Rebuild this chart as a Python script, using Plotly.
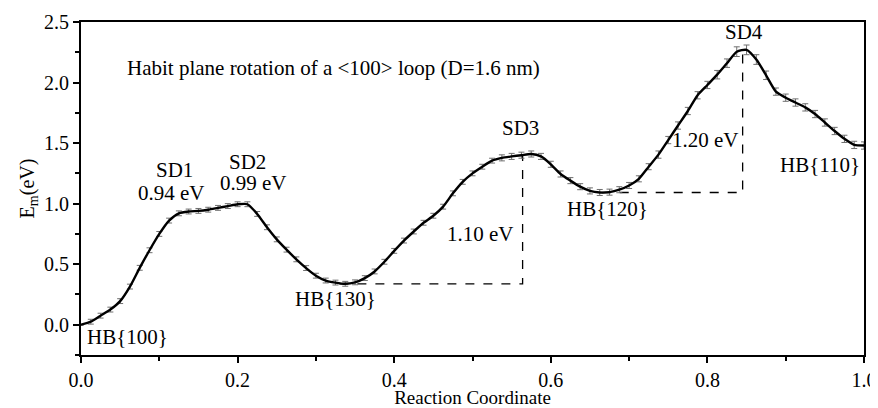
import plotly.graph_objects as go

# Reaction coordinate and migration energy (eV)
reaction_coord = [
    0.0000, 0.0125, 0.0250, 0.0375, 0.0500, 0.0625, 0.0750, 0.0875, 0.1000, 0.1125,
    0.1250, 0.1375, 0.1500, 0.1625, 0.1750, 0.1875, 0.2000, 0.2125, 0.2250, 0.2375,
    0.2500, 0.2625, 0.2750, 0.2875, 0.3000, 0.3125, 0.3250, 0.3375, 0.3500, 0.3625,
    0.3750, 0.3875, 0.4000, 0.4125, 0.4250, 0.4375, 0.4500, 0.4625, 0.4750, 0.4875,
    0.5000, 0.5125, 0.5250, 0.5375, 0.5500, 0.5625, 0.5750, 0.5875, 0.6000, 0.6125,
    0.6250, 0.6375, 0.6500, 0.6625, 0.6750, 0.6875, 0.7000, 0.7125, 0.7250, 0.7375,
    0.7500, 0.7625, 0.7750, 0.7875, 0.8000, 0.8125, 0.8250, 0.8375, 0.8500, 0.8625,
    0.8750, 0.8875, 0.9000, 0.9125, 0.9250, 0.9375, 0.9500, 0.9625, 0.9750, 0.9875,
    1.0000,
]
energy = [
    0.000, 0.025, 0.075, 0.125, 0.195, 0.315, 0.470, 0.615, 0.750, 0.860,
    0.920, 0.935, 0.940, 0.950, 0.965, 0.980, 0.995, 0.995, 0.915, 0.805,
    0.705, 0.620, 0.540, 0.468, 0.405, 0.365, 0.348, 0.338, 0.350, 0.385,
    0.440, 0.520, 0.610, 0.695, 0.770, 0.842, 0.900, 0.975, 1.085, 1.180,
    1.250, 1.305, 1.355, 1.378, 1.390, 1.400, 1.410, 1.390, 1.325, 1.245,
    1.190, 1.140, 1.105, 1.092, 1.095, 1.115, 1.150, 1.205, 1.305, 1.405,
    1.525, 1.645, 1.765, 1.895, 1.980, 2.065, 2.160, 2.255, 2.270, 2.190,
    2.060, 1.925, 1.875, 1.835, 1.795, 1.740, 1.670, 1.600, 1.535, 1.485,
    1.480,
]
energy_err = [
    0.00, 0.02, 0.02, 0.02, 0.02, 0.02, 0.02, 0.02, 0.02, 0.02,
    0.02, 0.02, 0.02, 0.02, 0.02, 0.02, 0.02, 0.02, 0.02, 0.02,
    0.02, 0.02, 0.02, 0.02, 0.02, 0.02, 0.02, 0.02, 0.02, 0.02,
    0.02, 0.02, 0.02, 0.02, 0.02, 0.02, 0.02, 0.02, 0.02, 0.02,
    0.02, 0.02, 0.02, 0.025, 0.025, 0.025, 0.025, 0.025, 0.025, 0.025,
    0.025, 0.025, 0.025, 0.025, 0.025, 0.025, 0.025, 0.025, 0.025, 0.03,
    0.03, 0.03, 0.03, 0.03, 0.03, 0.035, 0.035, 0.04, 0.04, 0.04,
    0.035, 0.03, 0.03, 0.03, 0.03, 0.03, 0.03, 0.03, 0.03, 0.03,
    0.03,
]

# Barrier guides: (start x, corner x, low E, high E)
barrier_start = [0.330, 0.665]
barrier_corner = [0.564, 0.845]
barrier_low = [0.338, 1.092]
barrier_high = [1.400, 2.270]

# Text labels
label_text = ["SD1", "0.94 eV", "SD2", "0.99 eV", "HB{100}", "HB{130}", "1.10 eV",
              "SD3", "HB{120}", "1.20 eV", "SD4", "HB{110}",
              "Habit plane rotation of a &lt;100&gt; loop (D=1.6 nm)"]
label_x = [0.120, 0.115, 0.213, 0.220, 0.059, 0.325, 0.510, 0.561, 0.672, 0.798, 0.847, 0.944, 0.322]
label_y = [1.279, 1.089, 1.345, 1.170, -0.100, 0.215, 0.750, 1.625, 0.957, 1.526, 2.418, 1.320, 2.120]

FONT = "Liberation Serif, Times New Roman, serif"

fig = go.Figure()

for xs, xc, lo, hi in zip(barrier_start, barrier_corner, barrier_low, barrier_high):
    fig.add_trace(go.Scatter(
        x=[xs, xc, xc], y=[lo, lo, hi], mode="lines",
        line=dict(color="black", width=1.3, dash="dash"),
        hoverinfo="skip", showlegend=False,
    ))

fig.add_trace(go.Scatter(
    x=reaction_coord, y=energy, mode="lines",
    line=dict(color="black", width=2.4, shape="spline", smoothing=0.6),
    error_y=dict(type="data", array=energy_err, visible=True,
                 color="#6f6f6f", thickness=1, width=3),
    showlegend=False,
))

for t, xv, yv in zip(label_text, label_x, label_y):
    fig.add_annotation(x=xv, y=yv, xref="x", yref="y", text=t, showarrow=False,
                       xanchor="center", yanchor="middle",
                       font=dict(family=FONT, size=21, color="black"))

axis_common = dict(
    showline=True, linecolor="black", linewidth=2, mirror=True,
    ticks="outside", ticklen=6, tickwidth=2, tickcolor="black",
    showgrid=False, zeroline=False, automargin=False,
    tickfont=dict(family=FONT, size=20, color="black"),
)

fig.update_xaxes(range=[0, 1], dtick=0.2, tickformat=".1f",
                 minor=dict(ticks="outside", ticklen=4, dtick=0.1, tickwidth=1.5, tickcolor="black"),
                 title=dict(text="Reaction Coordinate", font=dict(family=FONT, size=19, color="black"), standoff=0),
                 **axis_common)
fig.update_yaxes(range=[-0.25, 2.5], tick0=0, dtick=0.5, tickformat=".1f",
                 minor=dict(ticks="outside", ticklen=4, tick0=0, dtick=0.25, tickwidth=1.5, tickcolor="black"),
                 title=dict(text="E<sub>m</sub>(eV)", font=dict(family=FONT, size=20, color="black"), standoff=4),
                 **axis_common)

# The page adds an 8 px body margin, so the figure is sized to fit the window.
fig.update_layout(
    width=870, height=400,
    margin=dict(l=73, r=14, t=14, b=53),
    paper_bgcolor="white", plot_bgcolor="white",
    font=dict(family=FONT, size=20, color="black"),
)

fig.write_html("out.html")
